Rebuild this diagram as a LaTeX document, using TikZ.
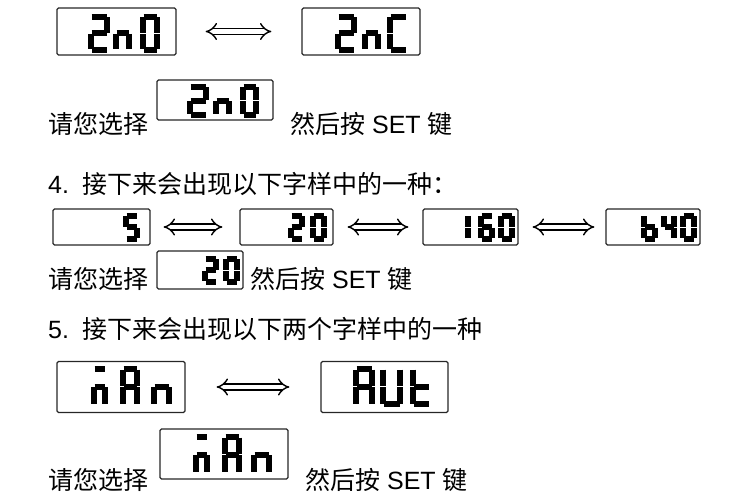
\documentclass[tikz,border=0pt]{standalone}
\usepackage{fontspec}
\setmainfont{Liberation Sans}
\newfontfamily\cjk{Noto Sans CJK SC}
\usetikzlibrary{arrows.meta}

% seven segment glyphs (corner pairs)
\def\gTwo{tl/tr,tr/mr,ml/mr,ml/bl,bl/br}
\def\gZero{tl/tr,tr/mr,mr/br,bl/br,ml/bl,tl/ml}
\def\gN{ml/mr,mr/br,ml/bl}
\def\gC{tl/tr,tl/ml,ml/bl,bl/br}
\def\gFive{tl/tr,tl/ml,ml/mr,mr/br,bl/br}
\def\gOne{tr/mr,mr/br}
\def\gSix{tl/tr,tl/ml,ml/mr,ml/bl,mr/br,bl/br}
\def\gB{tl/ml,ml/mr,ml/bl,mr/br,bl/br}
\def\gFour{tl/ml,ml/mr,tr/mr,mr/br}
\def\gA{tl/tr,tl/ml,tr/mr,ml/mr,ml/bl,mr/br}
\def\gU{tl/ml,ml/bl,tr/mr,mr/br,bl/br}
\def\gT{tl/ml,ml/bl,ml/mr,bl/br}
\def\gM{tl/tr,ml/mr,ml/bl,mr/br}

\newcommand\lcdglyph[5]{%
  \begin{scope}[shift={(#1,#2)}]
    \coordinate (tl) at (0,0);  \coordinate (tr) at (#3,0);
    \coordinate (ml) at (0,#4/2); \coordinate (mr) at (#3,#4/2);
    \coordinate (bl) at (0,#4); \coordinate (br) at (#3,#4);
    \foreach \p/\q in #5 {\draw[lcdseg] (\p) -- (\q);}
  \end{scope}}

\begin{document}
\begin{tikzpicture}[x=1pt,y=-1pt,
  lcdbox/.style={draw=black!85, line width=1.2pt, rounded corners=1.5pt, inner sep=0pt},
  lcdseg/.style={line width=6pt, shorten <=0.5pt, shorten >=0.5pt},
  dblarrow/.style={double distance=4.5pt, line width=1.4pt, {Implies[length=6pt]}-{Implies[length=6pt]}},
  txt/.style={anchor=base west, inner sep=0pt, font=\fontsize{25}{29}\selectfont}]
  \useasboundingbox (0,0) rectangle (748,500);

  % row 1
  \node[lcdbox, minimum width=119pt, minimum height=47pt] (d1) at (116.5,31.5) {};
  \node[lcdbox, minimum width=118pt, minimum height=47pt] (d2) at (361,31.5) {};
  \draw[dblarrow, shorten <=29pt, shorten >=30pt] (d1) -- (d2);
  \lcdglyph{91}{17}{16}{33}{\gTwo}
  \lcdglyph{116}{17}{13}{33}{\gN}
  \lcdglyph{143}{17}{14}{33}{\gZero}
  \lcdglyph{338}{17}{16}{33}{\gTwo}
  \lcdglyph{365}{17}{13}{33}{\gN}
  \lcdglyph{390}{17}{16}{33}{\gC}

  \node[txt] (t1) at (48,134) {\cjk 请您选择};
  \node[lcdbox, minimum width=116pt, minimum height=40pt] (d3) at (215,100) {};
  \lcdglyph{190}{87}{16}{28}{\gTwo}
  \lcdglyph{216}{87}{13}{28}{\gN}
  \lcdglyph{243}{87}{13}{28}{\gZero}
  \node[txt] (t2) at (290,134) {{\cjk 然后按} SET {\cjk 键}};

  \node[txt] (t3) at (48,194) {4.\ \ {\cjk 接下来会出现以下字样中的一种：}};

  % row 4
  \node[lcdbox, minimum width=97pt, minimum height=36pt] (e1) at (101.5,227) {};
  \node[lcdbox, minimum width=93pt, minimum height=36pt] (e2) at (286.5,227) {};
  \node[lcdbox, minimum width=95pt, minimum height=36pt] (e3) at (470.5,227) {};
  \node[lcdbox, minimum width=94pt, minimum height=36pt] (e4) at (653,227) {};
  \draw[dblarrow, shorten <=13pt, shorten >=17pt] (e1) -- (e2);
  \draw[dblarrow, shorten <=14pt, shorten >=14pt] (e2) -- (e3);
  \draw[dblarrow, shorten <=14pt, shorten >=11pt] (e3) -- (e4);
  \lcdglyph{126}{216}{11}{23}{\gFive}
  \lcdglyph{291}{216}{11}{23}{\gTwo}
  \lcdglyph{313}{216}{11}{23}{\gZero}
  \lcdglyph{467}{216}{1}{23}{\gOne}
  \lcdglyph{481}{216}{11}{23}{\gSix}
  \lcdglyph{501}{216}{11}{23}{\gZero}
  \lcdglyph{644}{216}{11}{23}{\gB}
  \lcdglyph{664}{216}{10}{23}{\gFour}
  \lcdglyph{683}{216}{11}{23}{\gZero}

  \node[txt] (t4) at (48,289) {\cjk 请您选择};
  \node[lcdbox, minimum width=86pt, minimum height=38pt] (e5) at (200,270) {};
  \lcdglyph{205}{259}{11}{23}{\gTwo}
  \lcdglyph{226}{259}{11}{23}{\gZero}
  \node[txt] (t5) at (250,289) {{\cjk 然后按} SET {\cjk 键}};

  \node[txt] (t6) at (48,338) {5.\ \ {\cjk 接下来会出现以下两个字样中的一种}};

  % row 7
  \node[lcdbox, minimum width=128pt, minimum height=51pt] (f1) at (121,387) {};
  \node[lcdbox, minimum width=127pt, minimum height=51pt] (f2) at (384.5,387) {};
  \draw[dblarrow, shorten <=31pt, shorten >=31pt] (f1) -- (f2);
  \lcdglyph{94}{369}{11}{35}{\gM}
  \lcdglyph{123}{369}{14}{35}{\gA}
  \lcdglyph{154}{369}{15}{35}{\gN}
  \lcdglyph{356}{369}{16}{35}{\gA}
  \lcdglyph{383}{369}{17}{35}{\gU}
  \lcdglyph{413}{369}{16}{35}{\gT}

  \node[txt] (t7) at (48,489) {\cjk 请您选择};
  \node[lcdbox, minimum width=128pt, minimum height=50pt] (f3) at (224,454) {};
  \lcdglyph{196}{437}{11}{35}{\gM}
  \lcdglyph{225}{437}{14}{35}{\gA}
  \lcdglyph{254}{437}{15}{35}{\gN}
  \node[txt] (t8) at (305,489) {{\cjk 然后按} SET {\cjk 键}};
\end{tikzpicture}
\end{document}
